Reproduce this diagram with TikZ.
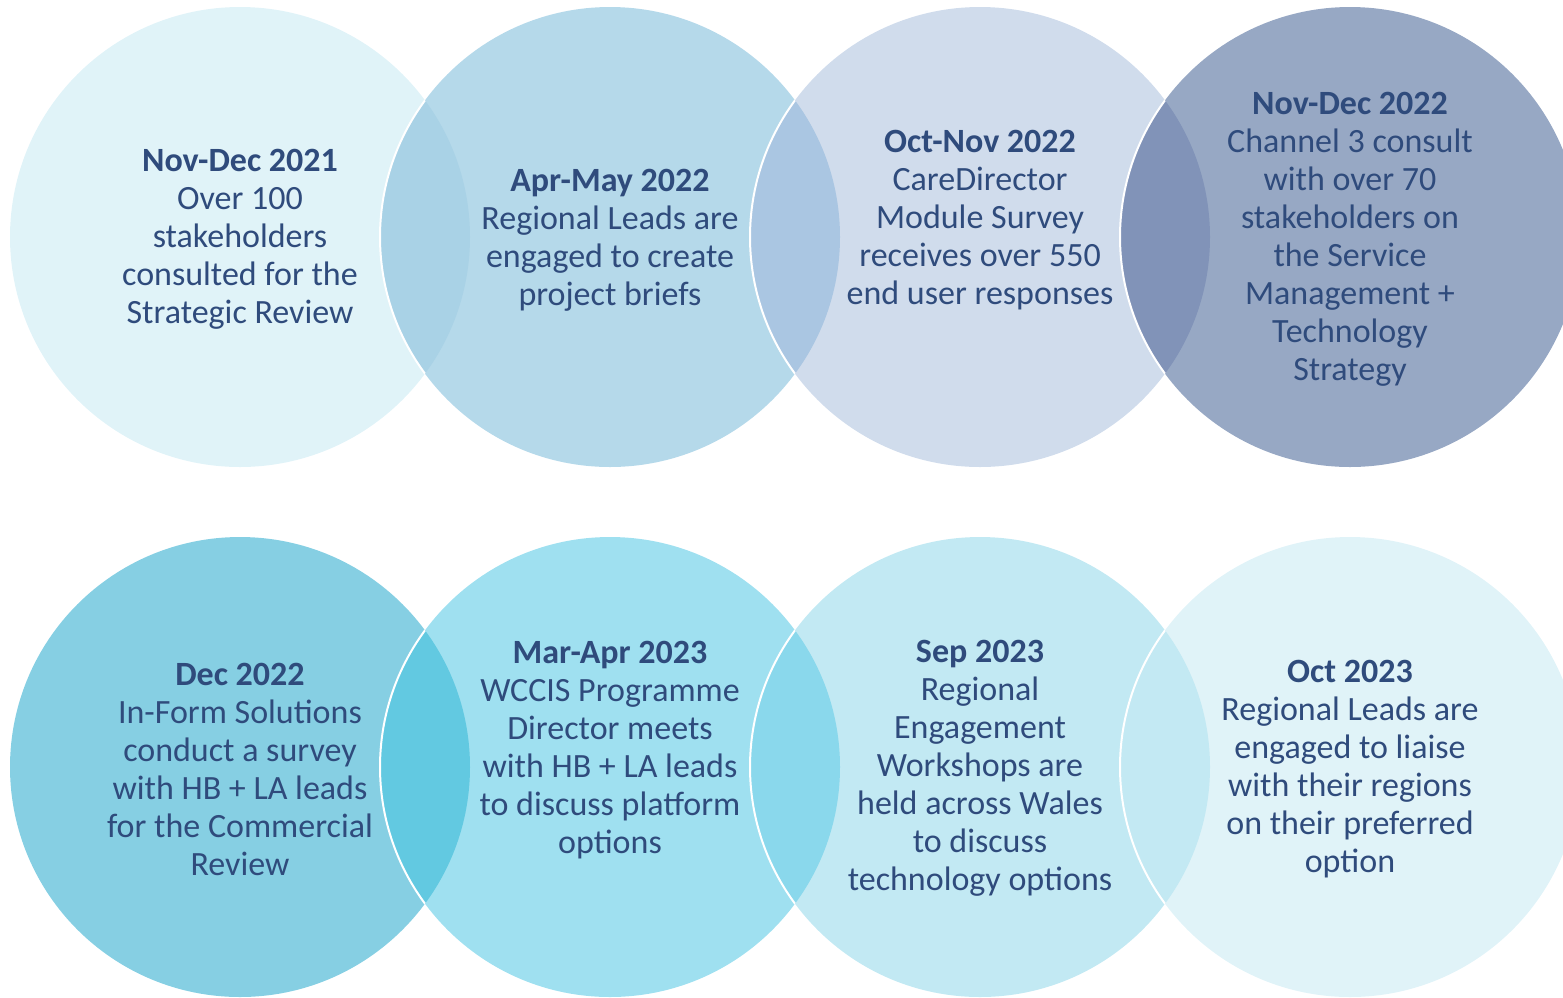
\documentclass[tikz,border=0pt]{standalone}
\usepackage{fontspec}
\setmainfont{Carlito}
\definecolor{txt}{HTML}{2F4B7C}
\definecolor{ta}{HTML}{E0F3F8}
\definecolor{tb}{HTML}{B5D9EA}
\definecolor{tc}{HTML}{D0DCEC}
\definecolor{td}{HTML}{97A8C4}
\definecolor{tab}{HTML}{A9D2E6}
\definecolor{tbc}{HTML}{AAC6E2}
\definecolor{tcd}{HTML}{8193B8}
\definecolor{ba}{HTML}{86CFE3}
\definecolor{bb}{HTML}{9FE0F0}
\definecolor{bc}{HTML}{C2E9F3}
\definecolor{bd}{HTML}{E0F3F8}
\definecolor{bab}{HTML}{62C9E1}
\definecolor{bbc}{HTML}{8AD8EC}
\definecolor{bcd}{HTML}{C3E9F3}
\tikzset{
  lbl/.style={align=center, text=txt, font=\fontsize{34}{38}\selectfont, inner sep=0pt},
  ring/.style={draw=white, line width=2pt}
}
\newcommand{\R}{230pt}
\begin{document}
\begin{tikzpicture}[x=1pt,y=-1pt]
\useasboundingbox (0,0) rectangle (1563,997);
\clip (0,0) rectangle (1563,997);
% centres
\coordinate (t1) at (240,237);
\coordinate (t2) at (610,237);
\coordinate (t3) at (980,237);
\coordinate (t4) at (1350,237);
\coordinate (b1) at (240,767);
\coordinate (b2) at (610,767);
\coordinate (b3) at (980,767);
\coordinate (b4) at (1350,767);
% top row circles
\fill[ta] (t1) circle[radius=\R];
\fill[tb] (t2) circle[radius=\R];
\fill[tc] (t3) circle[radius=\R];
\fill[td] (t4) circle[radius=\R];
\begin{scope}\clip (t1) circle[radius=\R];
  \fill[tab] (t2) circle[radius=\R]; \draw[ring] (t2) circle[radius=\R];
\end{scope}
\begin{scope}\clip (t2) circle[radius=\R];
  \fill[tbc] (t3) circle[radius=\R]; \draw[ring] (t3) circle[radius=\R];
\end{scope}
\begin{scope}\clip (t3) circle[radius=\R];
  \fill[tcd] (t4) circle[radius=\R]; \draw[ring] (t4) circle[radius=\R];
\end{scope}
% bottom row circles
\fill[ba] (b1) circle[radius=\R];
\fill[bb] (b2) circle[radius=\R];
\fill[bc] (b3) circle[radius=\R];
\fill[bd] (b4) circle[radius=\R];
\begin{scope}\clip (b1) circle[radius=\R];
  \fill[bab] (b2) circle[radius=\R]; \draw[ring] (b2) circle[radius=\R];
\end{scope}
\begin{scope}\clip (b2) circle[radius=\R];
  \fill[bbc] (b3) circle[radius=\R]; \draw[ring] (b3) circle[radius=\R];
\end{scope}
\begin{scope}\clip (b3) circle[radius=\R];
  \fill[bcd] (b4) circle[radius=\R]; \draw[ring] (b4) circle[radius=\R];
\end{scope}
% texts
\node[lbl] (n1) at (240,239) {\textbf{Nov-Dec 2021}\\Over 100\\stakeholders\\consulted for the\\Strategic Review};
\node[lbl] (n2) at (610,240) {\textbf{Apr-May 2022}\\Regional Leads are\\engaged to create\\project briefs};
\node[lbl] (n3) at (980,220) {\textbf{Oct-Nov 2022}\\CareDirector\\Module Survey\\receives over 550\\end user responses};
\node[lbl] (n4) at (1350,239) {\textbf{Nov-Dec 2022}\\Channel 3 consult\\with over 70\\stakeholders on\\the Service\\Management +\\Technology\\Strategy};
\node[lbl] (n5) at (240,769) {\textbf{Dec 2022}\\In-Form Solutions\\conduct a survey\\with HB + LA leads\\for the Commercial\\Review};
\node[lbl] (n6) at (610,750) {\textbf{Mar-Apr 2023}\\WCCIS Programme\\Director meets\\with HB + LA leads\\to discuss platform\\options};
\node[lbl] (n7) at (980,768) {\textbf{Sep 2023}\\Regional\\Engagement\\Workshops are\\held across Wales\\to discuss\\technology options};
\node[lbl] (n8) at (1350,769) {\textbf{Oct 2023}\\Regional Leads are\\engaged to liaise\\with their regions\\on their preferred\\option};
\end{tikzpicture}
\end{document}
